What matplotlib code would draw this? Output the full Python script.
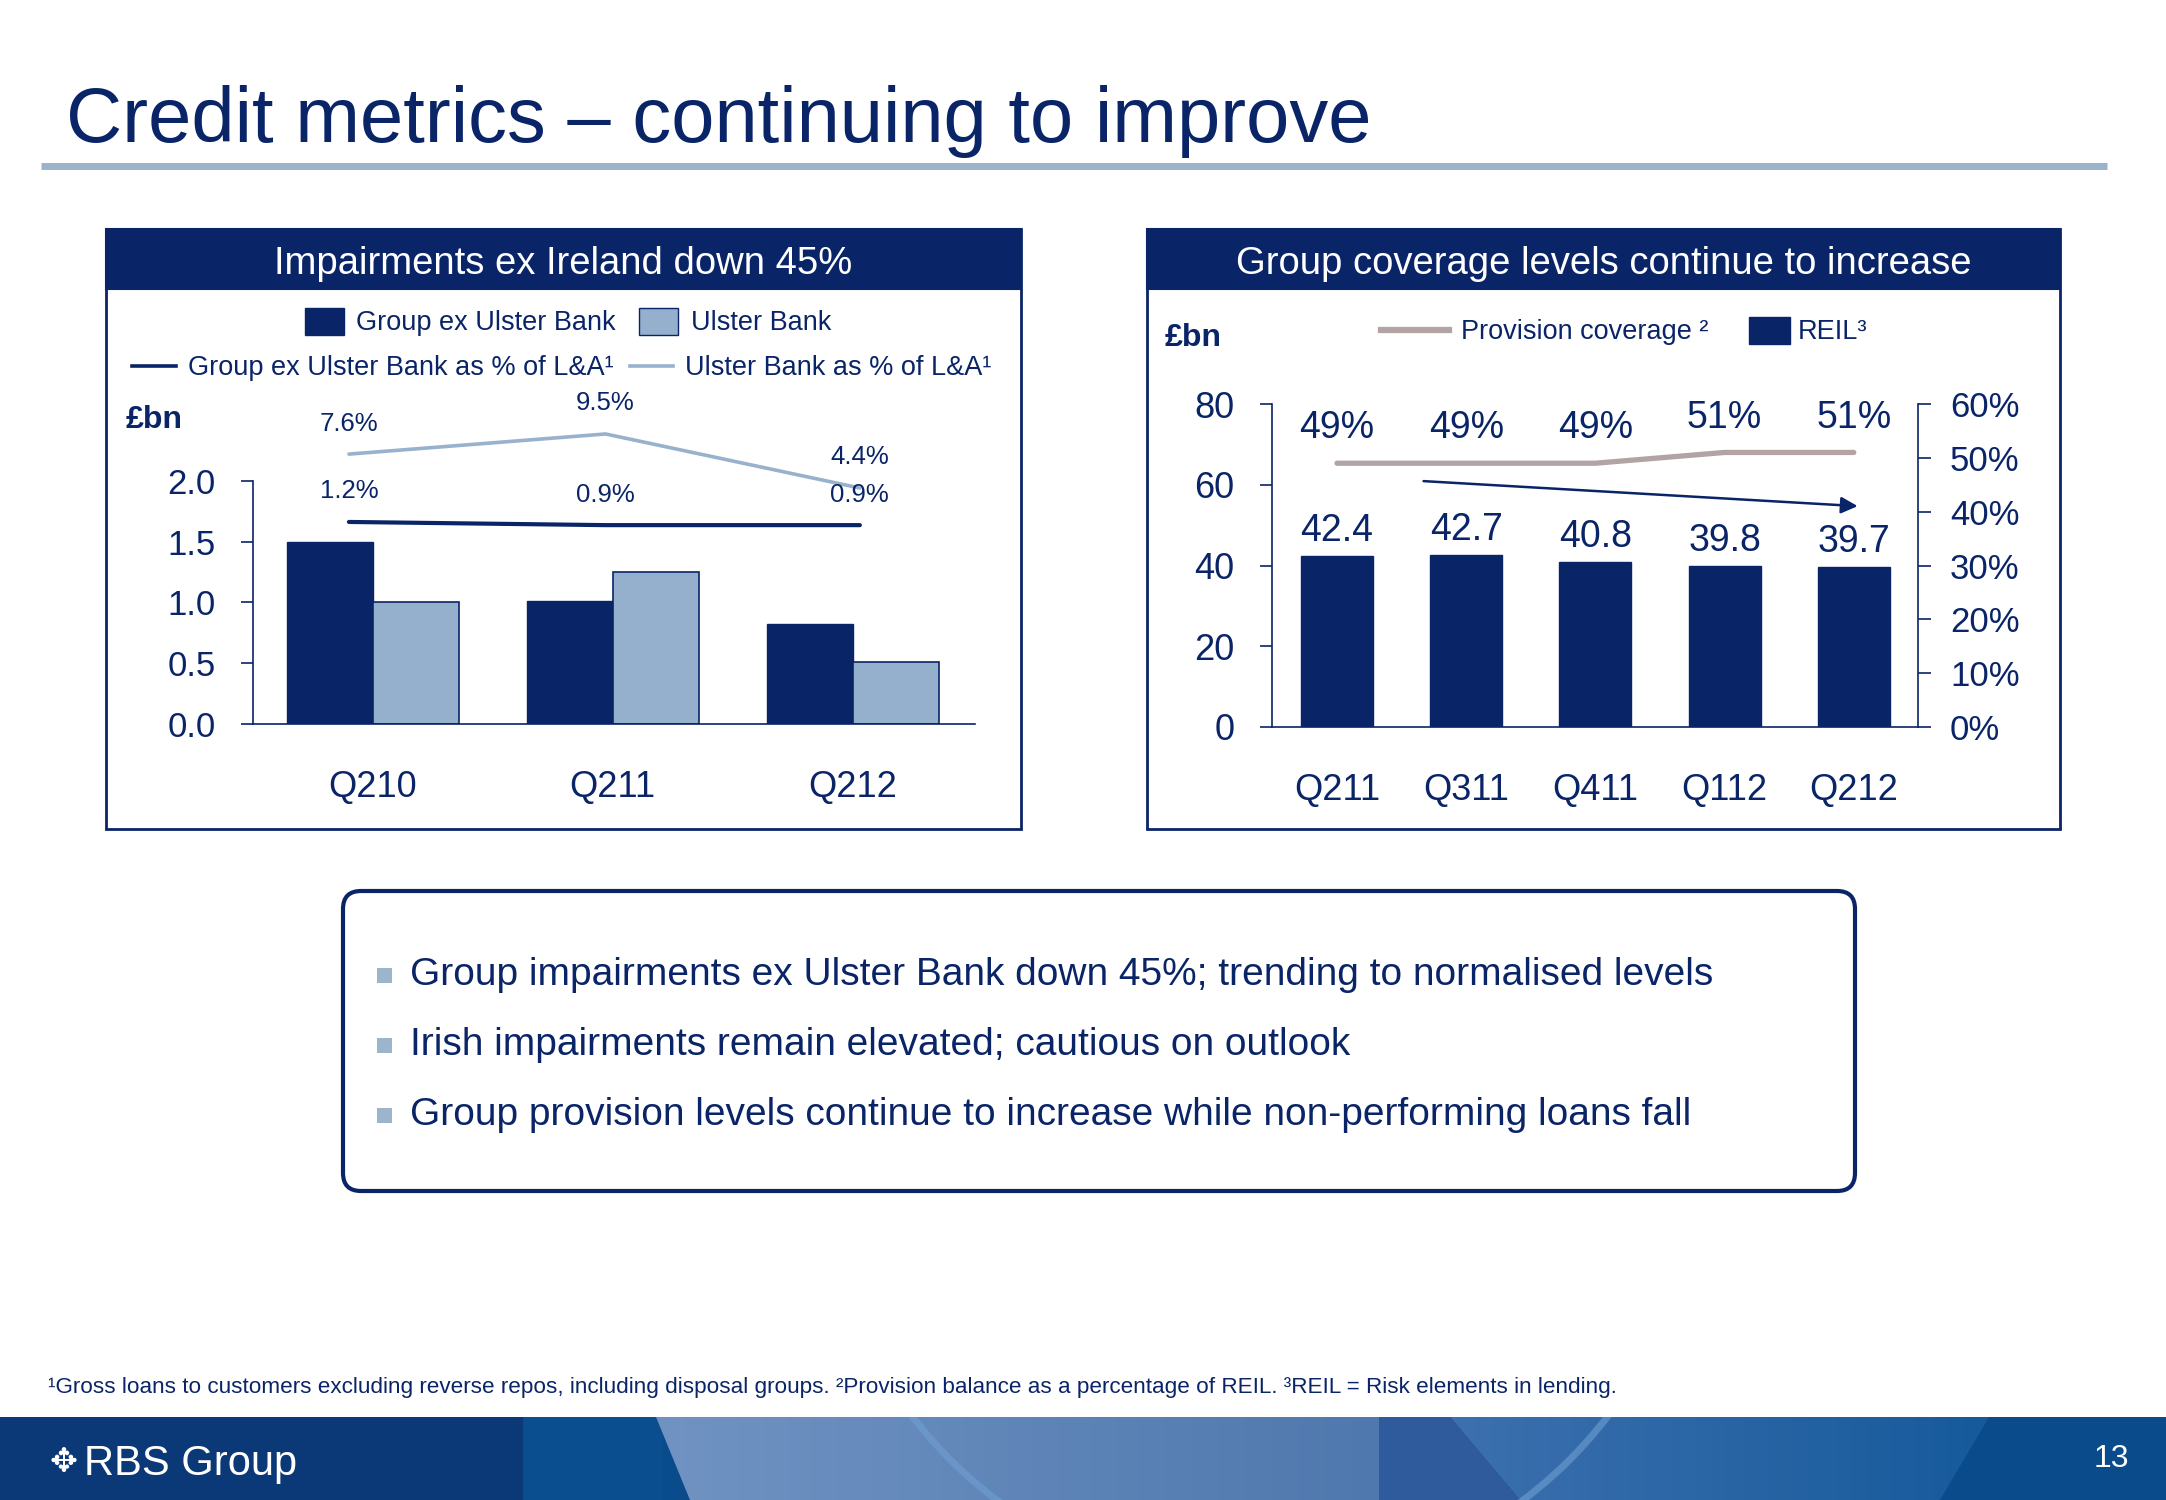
import numpy as np
import matplotlib
matplotlib.use("Agg")
import matplotlib.pyplot as plt
from matplotlib.patches import Rectangle, FancyBboxPatch, Polygon, Circle, Patch
from matplotlib.lines import Line2D

# data
left_quarters = ["Q210", "Q211", "Q212"]
group_ex_ub = [1.50, 1.01, 0.82]
ulster_bank = [1.00, 1.25, 0.51]
group_ex_ub_pct = [1.2, 0.9, 0.9]
ulster_bank_pct = [7.6, 9.5, 4.4]

right_quarters = ["Q211", "Q311", "Q411", "Q112", "Q212"]
reil = [42.4, 42.7, 40.8, 39.8, 39.7]
provision_cov = [49, 49, 49, 51, 51]

left_ticks = [0.0, 0.5, 1.0, 1.5, 2.0]
right_ticks = [0, 20, 40, 60, 80]
pct_ticks = [0, 10, 20, 30, 40, 50, 60]

bullets = [
    "Group impairments ex Ulster Bank down 45%; trending to normalised levels",
    "Irish impairments remain elevated; cautious on outlook",
    "Group provision levels continue to increase while non-performing loans fall",
]
footnote = ("¹Gross loans to customers excluding reverse repos, including disposal groups. "
            "²Provision balance as a percentage of REIL. ³REIL = Risk elements in lending.")

NAVY = "#0a2468"
LIGHT = "#95b0cd"
LIGHT_LINE = "#98b1cc"
PROV = "#b2a3a5"
RULE = "#9ab2ca"

plt.rcParams["font.family"] = ["Liberation Sans", "DejaVu Sans"]

W, H = 2166, 1500
fig = plt.figure(figsize=(W / 100, H / 100), dpi=100)
fig.patch.set_facecolor("white")

# background axes in pixel coords (y down) for the slide decorations
bg = fig.add_axes([0, 0, 1, 1], zorder=0)
bg.set_xlim(0, W)
bg.set_ylim(H, 0)
bg.axis("off")


def axes_px(x0, y0, x1, y1):
    return fig.add_axes([x0 / W, 1 - y1 / H, (x1 - x0) / W, (y1 - y0) / H], zorder=2)


# title and rule
bg.text(66, 122, "Credit metrics – continuing to improve", fontsize=56,
        color=NAVY, va="center", ha="left")
bg.plot([41, 2107], [166, 166], color=RULE, lw=5, solid_capstyle="butt")

# panels
for x0, w, head in [(106, 915, "Impairments ex Ireland down 45%"),
                    (1147, 913, "Group coverage levels continue to increase")]:
    bg.add_patch(Rectangle((x0, 229), w, 60, facecolor=NAVY, edgecolor=NAVY, lw=1.5))
    bg.add_patch(Rectangle((x0, 229), w, 600, facecolor="none", edgecolor=NAVY, lw=2))
    bg.text(x0 + w / 2, 264, head, fontsize=27.5, color="white", ha="center", va="center")

bg.text(126, 420, "£bn", fontsize=23, fontweight="bold", color=NAVY, va="center")
bg.text(1165, 338, "£bn", fontsize=23, fontweight="bold", color=NAVY, va="center")

# ---- left chart: impairments
axL = axes_px(253, 401, 975, 724)
xl = np.arange(len(left_quarters))
bw = 0.358
axL.bar(xl - bw / 2, group_ex_ub, bw, color=NAVY, edgecolor=NAVY, lw=1)
axL.bar(xl + bw / 2, ulster_bank, bw, color=LIGHT, edgecolor=NAVY, lw=1.2)
axL.set_xlim(-0.5, 2.51)
axL.set_ylim(0, 2.656)
axL.set_yticks(left_ticks)
axL.set_yticklabels([f"{v:.1f}" for v in left_ticks])
axL.set_xticks(xl)
axL.set_xticklabels(left_quarters)
for s in ["top", "right"]:
    axL.spines[s].set_visible(False)
axL.spines["left"].set_bounds(0, 2.0)
for s in ["left", "bottom"]:
    axL.spines[s].set_color(NAVY)
    axL.spines[s].set_linewidth(1.2)
axL.tick_params(axis="y", direction="out", length=9, width=1.2, color=NAVY,
                labelsize=25, labelcolor=NAVY, pad=18)
axL.tick_params(axis="x", length=0, labelsize=26, labelcolor=NAVY, pad=33)
axL.patch.set_alpha(0)

# % of L&A lines on a hidden second scale
axLp = axL.twinx()
axLp.set_ylim(-17.86, 12.61)
axLp.axis("off")
xline = xl + np.array([-0.1, -0.03, 0.03])
axLp.plot(xline, ulster_bank_pct, color=LIGHT_LINE, lw=2.6, solid_capstyle="round")
axLp.plot(xline, group_ex_ub_pct, color=NAVY, lw=3, solid_capstyle="round")
for x, v in zip(xline, ulster_bank_pct):
    axLp.annotate(f"{v}%", (x, v), xytext=(0, 22), textcoords="offset points",
                  ha="center", va="center", fontsize=18.5, color=NAVY)
for x, v in zip(xline, group_ex_ub_pct):
    axLp.annotate(f"{v}%", (x, v), xytext=(0, 22), textcoords="offset points",
                  ha="center", va="center", fontsize=18.5, color=NAVY)

fig.legend(handles=[Patch(facecolor=NAVY, edgecolor=NAVY),
                    Patch(facecolor=LIGHT, edgecolor=NAVY)],
           labels=["Group ex Ulster Bank", "Ulster Bank"], ncol=2, frameon=False,
           fontsize=19.5, labelcolor=NAVY, handlelength=1.45, handleheight=1.15,
           handletextpad=0.45, columnspacing=0.85, loc="center",
           bbox_to_anchor=(568 / W, 1 - 322 / H))
fig.legend(handles=[Line2D([], [], color=NAVY, lw=2.6), Line2D([], [], color=LIGHT_LINE, lw=2.6)],
           labels=["Group ex Ulster Bank as % of L&A¹", "Ulster Bank as % of L&A¹"], ncol=2,
           frameon=False, fontsize=19.5, labelcolor=NAVY, handlelength=1.6,
           handletextpad=0.45, columnspacing=0.6, loc="center",
           bbox_to_anchor=(562 / W, 1 - 368 / H))

# ---- right chart: REIL and provision coverage
axR = axes_px(1272, 404, 1918, 727)
xr = np.arange(len(right_quarters))
axR.bar(xr, reil, 0.557, color=NAVY, edgecolor=NAVY, lw=1)
axR.set_xlim(-0.503, 4.497)
axR.set_ylim(0, 80)
axR.set_yticks(right_ticks)
axR.set_xticks(xr)
axR.set_xticklabels(right_quarters)
for s in ["top", "right"]:
    axR.spines[s].set_visible(False)
for s in ["left", "bottom"]:
    axR.spines[s].set_color(NAVY)
    axR.spines[s].set_linewidth(1.2)
axR.tick_params(axis="y", direction="out", length=9, width=1.2, color=NAVY,
                labelsize=26, labelcolor=NAVY, pad=18)
axR.tick_params(axis="x", length=0, labelsize=26, labelcolor=NAVY, pad=33)
axR.patch.set_alpha(0)
for x, v in zip(xr, reil):
    axR.annotate(f"{v}", (x, v), xytext=(0, 18), textcoords="offset points",
                 ha="center", va="center", fontsize=27, color=NAVY)

axRp = axR.twinx()
axRp.set_ylim(0, 60)
axRp.set_yticks(pct_ticks)
axRp.set_yticklabels([f"{v}%" for v in pct_ticks])
for s in ["top", "left", "bottom"]:
    axRp.spines[s].set_visible(False)
axRp.spines["right"].set_color(NAVY)
axRp.spines["right"].set_linewidth(1.2)
axRp.tick_params(axis="y", direction="out", length=9, width=1.2, color=NAVY,
                 labelsize=25, labelcolor=NAVY, pad=14)
axRp.plot(xr, provision_cov, color=PROV, lw=3.8, solid_capstyle="round")
for x, v in zip(xr, provision_cov):
    axRp.annotate(f"{v}%", (x, v), xytext=(0, 25), textcoords="offset points",
                  ha="center", va="center", fontsize=27, color=NAVY)
# trend arrow (REIL falling)
arrow_from = (0.67, 60.9)
arrow_to = (4.03, 54.7)
axR.annotate("", xy=arrow_to, xytext=arrow_from,
             arrowprops=dict(arrowstyle="-|>,head_length=1.0,head_width=0.5",
                             color=NAVY, lw=1.8, shrinkA=0, shrinkB=0))

fig.legend(handles=[Line2D([], [], color=PROV, lw=4.5)], labels=["Provision coverage ²"],
           frameon=False, fontsize=19.5, labelcolor=NAVY, handlelength=2.5,
           handletextpad=0.45, loc="center", bbox_to_anchor=(1545 / W, 1 - 332 / H))
fig.legend(handles=[Patch(facecolor=NAVY, edgecolor=NAVY)], labels=["REIL³"],
           frameon=False, fontsize=19.5, labelcolor=NAVY, handlelength=1.5, handleheight=1.15,
           handletextpad=0.3, loc="center", bbox_to_anchor=(1808 / W, 1 - 331 / H))

# ---- bullet box
bg.add_patch(FancyBboxPatch((343, 891), 1512, 300,
                            boxstyle="round,pad=0,rounding_size=18",
                            facecolor="white", edgecolor=NAVY, lw=3))
for i, b in enumerate(bullets):
    yc = 975 + 70 * i
    bg.add_patch(Rectangle((377, yc - 7), 15, 15, facecolor="#9db4cd", edgecolor="none"))
    bg.text(410, yc, b, fontsize=28, color=NAVY, va="center")

bg.text(48, 1388, footnote, fontsize=16.2, color=NAVY, va="center")

# ---- footer band
bg.add_patch(Rectangle((0, 1417), W, 83, facecolor="#0a4b8c", edgecolor="none"))
bg.add_patch(Rectangle((0, 1417), 523, 83, facecolor="#0b3876", edgecolor="none"))
bg.add_patch(Rectangle((523, 1417), 140, 83, facecolor="#0b4e90", edgecolor="none"))
grad = np.linspace(0, 1, 256).reshape(1, -1)
light_poly = Polygon([(656, 1417), (1380, 1417), (1380, 1500), (690, 1500)], closed=True,
                     facecolor="none", edgecolor="none")
bg.add_patch(light_poly)
cm1 = matplotlib.colors.LinearSegmentedColormap.from_list("l1", ["#7093c2", "#4f78ae"])
im1 = bg.imshow(grad, extent=(656, 1380, 1500, 1417), cmap=cm1, aspect="auto", zorder=1)
im1.set_clip_path(light_poly)
bg.add_patch(Polygon([(1379, 1417), (1450, 1417), (1520, 1500), (1379, 1500)],
                     facecolor="#2f5a9c", edgecolor="none", zorder=1.5))
right_poly = Polygon([(1450, 1417), (1989, 1417), (1940, 1500), (1520, 1500)], closed=True,
                     facecolor="none", edgecolor="none")
bg.add_patch(right_poly)
cm2 = matplotlib.colors.LinearSegmentedColormap.from_list("l2", ["#3d70ae", "#165a9c"])
im2 = bg.imshow(grad, extent=(1450, 1989, 1500, 1417), cmap=cm2, aspect="auto", zorder=1)
im2.set_clip_path(right_poly)
arc = Circle((1260, 1150), 438, facecolor="none", edgecolor="#6f9fd4", lw=5, alpha=0.6, zorder=2)
bg.add_patch(arc)
arc.set_clip_path(Rectangle((0, 1417), W, 83, transform=bg.transData))
bg.set_xlim(0, W)
bg.set_ylim(H, 0)
bg.text(50, 1462, "✥", fontsize=24, color="white", va="center", family=["DejaVu Sans"], zorder=3)
bg.text(84, 1464, "RBS Group", fontsize=30, color="white", va="center", zorder=3)
bg.text(2111, 1459, "13", fontsize=23, color="white", va="center", ha="center", zorder=3)

fig.savefig("out.png", dpi=100)
